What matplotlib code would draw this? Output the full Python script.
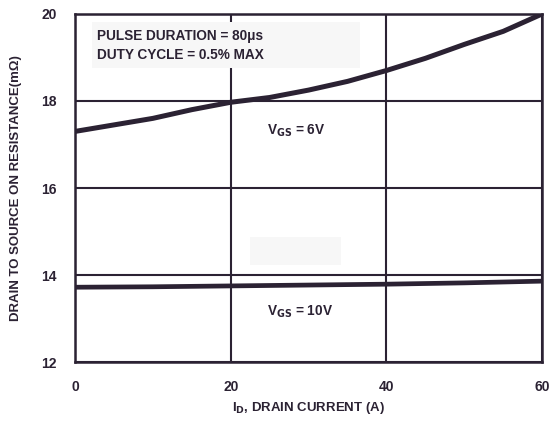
import matplotlib.pyplot as plt
from matplotlib.patches import Rectangle

plt.rcParams['font.family'] = ['Liberation Sans', 'DejaVu Sans']
plt.rcParams['font.weight'] = 'bold'

# Drain current (A)
id_6v = [0, 5, 10, 15, 20, 25, 30, 35, 40, 45, 50, 55, 60]
r_6v = [17.30, 17.45, 17.60, 17.80, 17.97, 18.08, 18.25, 18.45, 18.70, 18.98, 19.30, 19.60, 20.00]

id_10v = [0, 10, 20, 30, 40, 50, 60]
r_10v = [13.72, 13.73, 13.75, 13.77, 13.79, 13.82, 13.86]

x_ticks = [0, 20, 40, 60]
y_ticks = [12, 14, 16, 18, 20]

ink = '#2b2233'

fig = plt.figure(figsize=(5.49, 4.22), dpi=100)
ax = fig.add_axes([0.1366, 0.142, 0.851, 0.825])

# faint background boxes seen in the original scan
ax.add_patch(Rectangle((2.2, 18.76), 34.4, 1.06, color='#f7f7f7', zorder=2.5, lw=0))
ax.add_patch(Rectangle((22.5, 14.23), 11.6, 0.64, color='#f7f7f7', zorder=0, lw=0))

ax.plot(id_6v, r_6v, color=ink, lw=3.6, solid_capstyle='butt', zorder=3)
ax.plot(id_10v, r_10v, color=ink, lw=3.4, solid_capstyle='butt', zorder=3)

ax.set_xlim(0, 60)
ax.set_ylim(12, 20)
ax.set_xticks(x_ticks)
ax.set_yticks(y_ticks)
ax.tick_params(length=0, labelsize=10, colors=ink, pad=13)
for lab in ax.get_xticklabels() + ax.get_yticklabels():
    lab.set_fontweight('bold')
ax.grid(True, color=ink, lw=1.5)
for s in ax.spines.values():
    s.set_color(ink)
    s.set_linewidth(1.8)

ax.set_xlabel('I$_\\mathbf{D}$, DRAIN CURRENT (A)', fontsize=9.5, fontweight='bold', color=ink, labelpad=4)
ax.set_ylabel('DRAIN TO SOURCE ON RESISTANCE(m\u03a9)', fontsize=9.5, fontweight='bold', color=ink, labelpad=14)

ax.text(2.8, 19.5, 'PULSE DURATION = 80\u03bcs', fontsize=9.8, fontweight='bold', color=ink, va='center', zorder=4)
ax.text(2.8, 19.06, 'DUTY CYCLE = 0.5% MAX', fontsize=9.8, fontweight='bold', color=ink, va='center', zorder=4)
ax.text(28.4, 17.32, 'V$_\\mathbf{GS}$ = 6V', fontsize=9.8, fontweight='bold', color=ink, ha='center', va='center')
ax.text(28.9, 13.15, 'V$_\\mathbf{GS}$ = 10V', fontsize=9.8, fontweight='bold', color=ink, ha='center', va='center')

fig.savefig('out.png', dpi=100)
